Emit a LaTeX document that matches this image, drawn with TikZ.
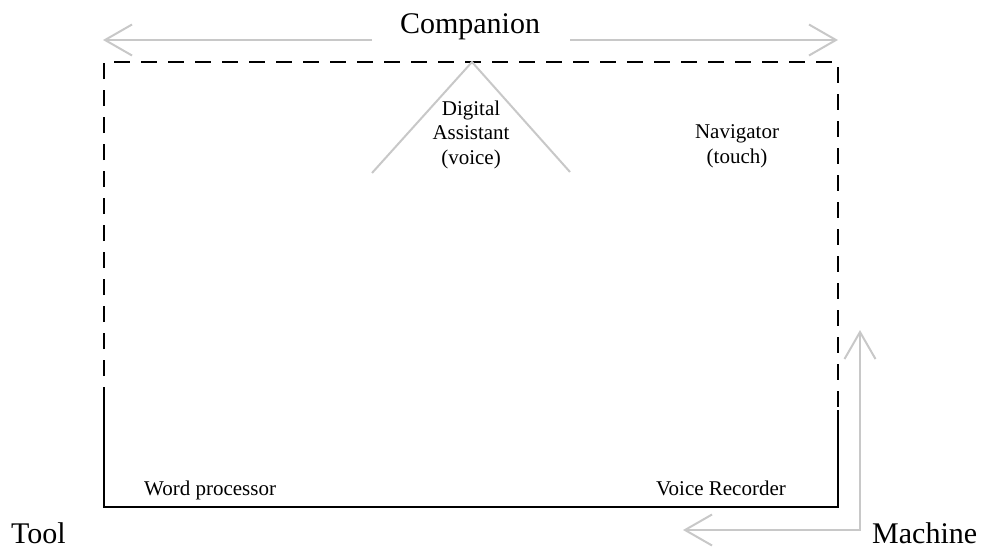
\documentclass[tikz,border=0pt]{standalone}
\usepackage{fontspec}
\setmainfont{Liberation Serif}
\usetikzlibrary{arrows.meta}
\definecolor{axisgray}{RGB}{200,200,200}
\tikzset{
  axis/.style={draw=axisgray, line width=2pt, arrows={-Straight Barb[length=27pt,width=31pt,line width=2pt]}},
  axisboth/.style={draw=axisgray, line width=2pt, arrows={Straight Barb[length=27pt,width=31pt,line width=2pt]-Straight Barb[length=27pt,width=31pt,line width=2pt]}},
  bigtext/.style={inner sep=0pt, font=\fontsize{30}{34}\selectfont},
  smalltext/.style={inner sep=0pt, align=center, font=\fontsize{21}{24.5}\selectfont},
  frame/.style={draw=black, line width=2.3pt},
  dashframe/.style={frame, dash pattern=on 16pt off 11pt},
  tri/.style={draw=axisgray, line width=2pt}
}
\begin{document}
\begin{tikzpicture}[x=1pt,y=-1pt]
\useasboundingbox (0,0) rectangle (983,549);
% corners of the frame
\coordinate (tl) at (104,62);
\coordinate (tr) at (838,62);
\coordinate (bl) at (104,507);
\coordinate (br) at (838,507);
\coordinate (lbreak) at (104,403);
\coordinate (rbreak) at (838,410);
\draw[dashframe] (lbreak) -- (tl) -- (tr) -- (rbreak);
\draw[frame, line cap=butt] (lbreak) -- (bl) -- (br) -- (rbreak);
% labels
\node[bigtext, anchor=base] (comp) at (470,33) {Companion};
\node[bigtext, anchor=base west] (tool) at (11,543) {Tool};
\node[bigtext, anchor=base west] (mach) at (872,543) {Machine};
% companion arrows
\coordinate (cl0) at (372,40);
\coordinate (cl1) at (103,40);
\coordinate (cr0) at (570,40);
\coordinate (cr1) at (838,40);
\draw[axis] (cl0) -- (cl1);
\draw[axis] (cr0) -- (cr1);
% machine arrows
\coordinate (ml) at (683,530);
\coordinate (mc) at (860,530);
\coordinate (mt) at (860,330);
\draw[axisboth] (ml) -- (mc) -- (mt);
% digital assistant triangle
\coordinate (apex) at (472,62);
\coordinate (tril) at (372,173);
\coordinate (trir) at (570,172);
\draw[tri] (tril) -- (apex) -- (trir);
% inner labels
\node[smalltext, anchor=base] (da) at (471,164) {Digital\\Assistant\\(voice)};
\node[smalltext, anchor=base] (nav) at (737,163) {Navigator\\(touch)};
\node[smalltext, anchor=base west] (wp) at (144,495) {Word processor};
\node[smalltext, anchor=base west] (vr) at (656,495) {Voice Recorder};
\end{tikzpicture}
\end{document}
